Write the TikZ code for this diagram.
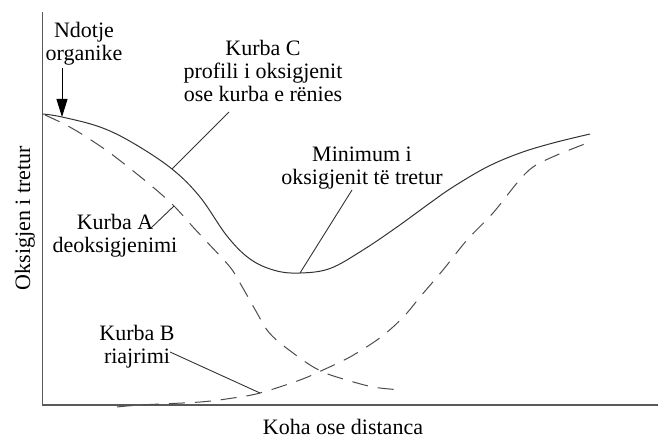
\documentclass[tikz,border=0pt]{standalone}
\usepackage{fontspec}
\setmainfont{Liberation Serif}
\usetikzlibrary{arrows.meta}
\tikzset{
  lbl/.style={align=center, inner sep=0pt, font=\fontsize{22}{23}\selectfont},
  axisline/.style={draw=black!65, line width=1.4pt},
  solidcurve/.style={draw=black!80, line width=1pt},
  dashcurve/.style={draw=black!70, line width=1pt, dash pattern=on 16pt off 10pt},
  leader/.style={draw=black!80, line width=0.9pt},
}
\begin{document}
\begin{tikzpicture}[x=1pt,y=-1pt]
\useasboundingbox (0,0) rectangle (658,438);
% axes
\coordinate (ytop) at (42.7,12);
\coordinate (origin) at (42.7,405);
\coordinate (xend) at (658,405);
\draw[axisline] (ytop) -- (origin) -- (xend);
\node[lbl, anchor=base] (xlab) at (343,434) {Koha ose distanca};
\node[lbl, anchor=base, rotate=90] (ylab) at (30,218) {Oksigjen i tretur};
% curve C (solid)
\draw[solidcurve] plot[smooth, tension=0.6] coordinates {
 (43,114) (62,117) (100,127) (133,143) (172,169) (200,197) (227,236)
 (250,259) (275,270.5) (300,273) (330,268.5) (363,250)
 (397,227) (430,203)
 (453,187) (487,167) (520,153) (553,143) (590,134)};
% curve A (dashed)
\draw[dashcurve] plot[smooth, tension=0.55] coordinates {
 (45,115) (62,123) (80,133) (110,153) (148,183) (173,205) (193,227)
 (207,242) (230,267) (240,283) (257,313) (267,330) (280,343) (307,363)
 (323,372) (340,378) (373,387) (403,390)};
% curve B (dashed)
\draw[dashcurve] plot[smooth, tension=0.55] coordinates {
 (117,407) (140,405) (200,402) (233,398) (260,393) (300,380) (323,370)
 (350,357) (377,340) (393,327) (407,313) (420,297) (443,270) (467,240)
 (493,213) (517,183) (533,167) (557,155) (590,142)};
% labels
\node[lbl, anchor=base] (ndotje) at (84,61) {Ndotje\\organike};
\node[lbl, anchor=base] (kurbaC) at (263,102) {Kurba C\\profili i oksigjenit\\ose kurba e rënies};
\node[lbl, anchor=base] (minimum) at (362,185) {Minimum i\\oksigjenit të tretur};
\node[lbl, anchor=base] (kurbaA) at (115,252) {Kurba A\\deoksigjenimi};
\node[lbl, anchor=base] (kurbaB) at (137,363) {Kurba B\\riajrimi};
% arrow
\coordinate (arrS) at (62,68);
\coordinate (arrE) at (62,117);
\draw[line width=1pt, -{Triangle[length=18pt,width=11pt]}] (arrS) -- (arrE);
% leaders
\coordinate (cL1) at (229,112); \coordinate (cL2) at (172,169);
\coordinate (mL1) at (352,190); \coordinate (mL2) at (300,273);
\coordinate (aL1) at (151,228); \coordinate (aL2) at (174,206);
\coordinate (bL1) at (170,352); \coordinate (bL2) at (260,393);
\draw[leader] (cL1) -- (cL2);
\draw[leader] (mL1) -- (mL2);
\draw[leader] (aL1) -- (aL2);
\draw[leader] (bL1) -- (bL2);
\end{tikzpicture}
\end{document}
